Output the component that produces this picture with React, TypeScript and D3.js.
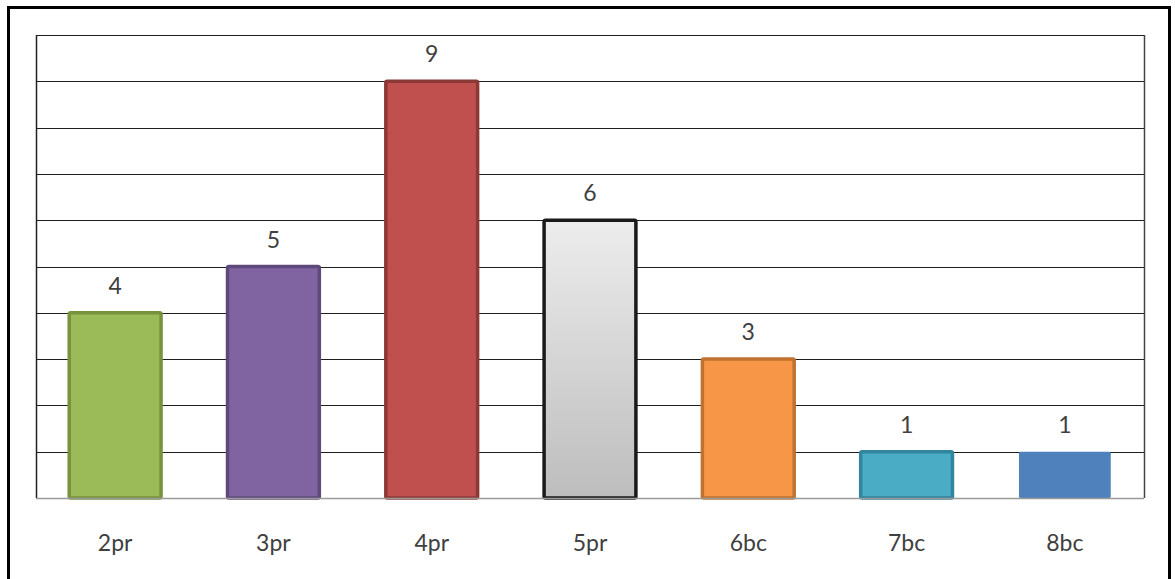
import { useEffect, useRef } from 'react';
import * as d3 from 'd3';

const categories = ['2pr', '3pr', '4pr', '5pr', '6bc', '7bc', '8bc'];
const counts = [4, 5, 9, 6, 3, 1, 1];
const fills = ['#9BBB59', '#8064A2', '#C0504D', 'url(#greyGrad)', '#F79646', '#4BACC6', '#4F81BD'];
const strokes = ['#77933C', '#5F497A', '#8C3836', '#1A1A1A', '#C0722F', '#31859C', 'none'];
const yTicks = [0, 1, 2, 3, 4, 5, 6, 7, 8, 9, 10];

export default function App() {
    const svgRef = useRef<SVGSVGElement>(null);

    useEffect(() => {
        if (!svgRef.current) return;
        const svg = d3.select(svgRef.current);
        svg.selectAll('*').remove();

        const width = 1175;
        const height = 579;
        const plot = { left: 36, top: 35, right: 1144, bottom: 498 };

        svg.attr('width', width).attr('height', height);

        // gradient for the grey bar
        const defs = svg.append('defs');
        const grad = defs.append('linearGradient')
            .attr('id', 'greyGrad')
            .attr('x1', 0).attr('y1', 0).attr('x2', 0).attr('y2', 1);
        grad.append('stop').attr('offset', '0%').attr('stop-color', '#EDEDED');
        grad.append('stop').attr('offset', '100%').attr('stop-color', '#BDBDBD');

        // outer chart border
        svg.append('rect')
            .attr('x', 8.5).attr('y', 7.5)
            .attr('width', 1161).attr('height', 575)
            .attr('fill', 'white')
            .attr('stroke', '#000')
            .attr('stroke-width', 3);

        const x = d3.scaleBand<string>()
            .domain(categories)
            .range([plot.left, plot.right])
            .paddingInner(0.42)
            .paddingOuter(0.21);

        const y = d3.scaleLinear()
            .domain([0, 10])
            .range([plot.bottom, plot.top]);

        // gridlines
        svg.append('g')
            .selectAll('line')
            .data(yTicks.slice(1))
            .join('line')
            .attr('x1', plot.left).attr('x2', plot.right)
            .attr('y1', d => Math.round(y(d)) + 0.5)
            .attr('y2', d => Math.round(y(d)) + 0.5)
            .attr('stroke', '#1e1e1e')
            .attr('stroke-width', 1);

        // plot area frame right side
        svg.append('line')
            .attr('x1', plot.right + 0.5).attr('x2', plot.right + 0.5)
            .attr('y1', plot.top).attr('y2', plot.bottom)
            .attr('stroke', '#444').attr('stroke-width', 1.5);

        // left axis
        svg.append('line')
            .attr('x1', plot.left + 0.5).attr('x2', plot.left + 0.5)
            .attr('y1', plot.top).attr('y2', plot.bottom)
            .attr('stroke', '#222').attr('stroke-width', 1.5);

        // bars
        const bars = svg.append('g');
        bars.selectAll('rect')
            .data(counts)
            .join('rect')
            .attr('x', (d, i) => x(categories[i])!)
            .attr('y', d => y(d))
            .attr('width', x.bandwidth())
            .attr('height', d => y(0) - y(d))
            .attr('rx', 1.5)
            .attr('fill', (d, i) => fills[i])
            .attr('stroke', (d, i) => strokes[i])
            .attr('stroke-width', 3.5);

        // bottom axis
        svg.append('line')
            .attr('x1', plot.left).attr('x2', plot.right)
            .attr('y1', plot.bottom + 0.5).attr('y2', plot.bottom + 0.5)
            .attr('stroke', '#9a9a9a').attr('stroke-width', 1.5);

        // value labels
        svg.append('g')
            .selectAll('text')
            .data(counts)
            .join('text')
            .attr('x', (d, i) => x(categories[i])! + x.bandwidth() / 2)
            .attr('y', d => y(d) - 19)
            .attr('text-anchor', 'middle')
            .style('font-family', 'Lato, sans-serif')
            .style('font-size', '23px')
            .style('fill', '#404040')
            .text(d => d);

        // category labels
        svg.append('g')
            .selectAll('text')
            .data(categories)
            .join('text')
            .attr('x', d => x(d)! + x.bandwidth() / 2)
            .attr('y', 551)
            .attr('text-anchor', 'middle')
            .style('font-family', 'Lato, sans-serif')
            .style('font-size', '23px')
            .style('fill', '#404040')
            .text(d => d);
    }, []);

    return (
        <svg ref={svgRef} style={{ position: 'absolute', left: 0, top: 0 }}></svg>
    );
}
